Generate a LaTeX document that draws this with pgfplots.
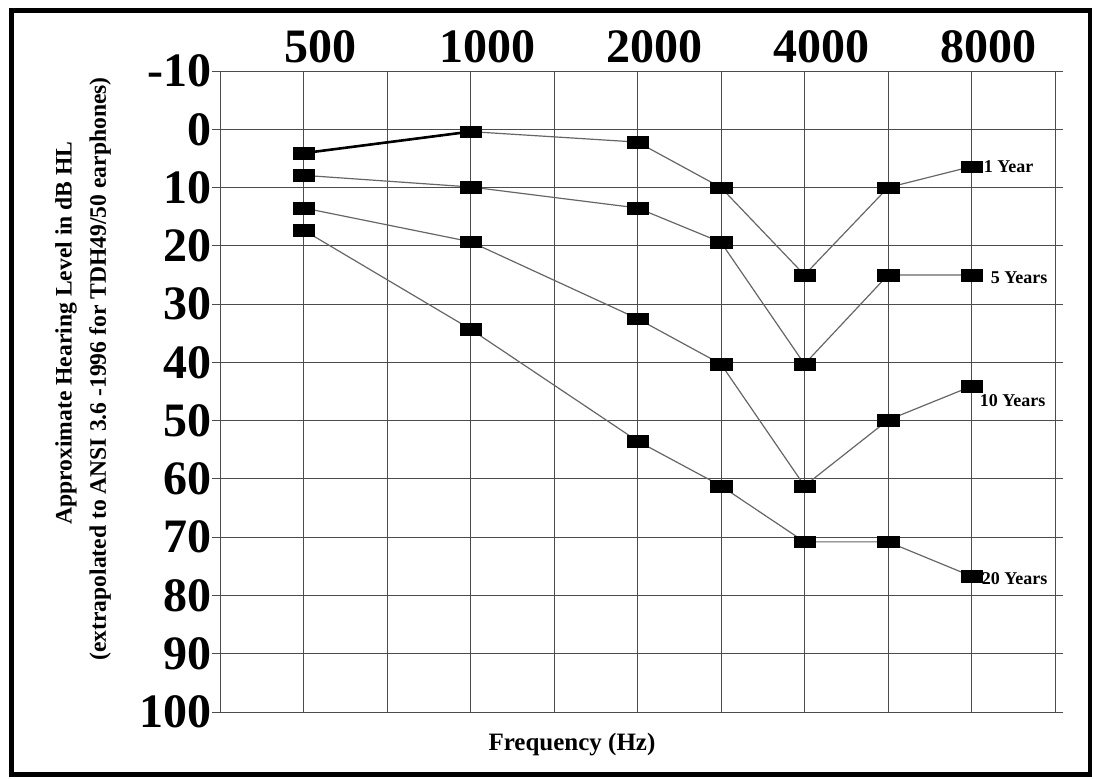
\documentclass[border=0pt]{standalone}
\usepackage{fontspec}
\setmainfont{Liberation Serif}
\usepackage{pgfplots}
\pgfplotsset{compat=1.18}
\usepackage{pgfplotstable}

% x positions: 500=1, 1000=3, 2000=5, 3000=6, 4000=7, 6000=8, 8000=9
\pgfplotstableread{
x y
1 4.1
3 0.4
5 2.2
6 10
7 25
8 10
9 6.4
}\oneyear
\pgfplotstableread{
x y
1 7.9
3 9.9
5 13.5
6 19.4
7 40.3
8 25
9 25
}\fiveyears
\pgfplotstableread{
x y
1 13.5
3 19.3
5 32.5
6 40.3
7 61.2
8 49.9
9 44.1
}\tenyears
\pgfplotstableread{
x y
1 17.3
3 34.3
5 53.5
6 61.2
7 70.8
8 70.8
9 76.7
}\twentyyears

\pgfplotsset{hl/.style={draw=black!60, line width=0.6pt, mark=square*, mark size=2.9pt, mark options={fill=black, draw=black, line width=0.2pt, xscale=1.85, solid}}}

\begin{document}
\begin{tikzpicture}
\useasboundingbox (0,0) rectangle (547pt,389pt);
\draw[line width=2.2pt] (5.75pt,1.75pt) rectangle (545pt,383.75pt);
\begin{axis}[
  at={(110pt,33pt)}, anchor=south west,
  scale only axis, width=417.5pt, height=320.5pt,
  xmin=0, xmax=10, ymin=-10, ymax=100, y dir=reverse,
  xtick={1,3,5,7,9}, xticklabels={500,1000,2000,4000,8000},
  minor xtick={0,2,4,6,8,10},
  xticklabel pos=upper,
  ytick={-10,0,10,20,30,40,50,60,70,80,90,100},
  yticklabels={-10,0,10,20,30,40,50,60,70,80,90,100},
  grid=both,
  major grid style={black!70, line width=0.5pt},
  minor grid style={black!70, line width=0.5pt},
  axis line style={black!70, line width=0.5pt},
  tick align=outside, major tick length=4pt, minor tick length=0pt,
  xtick style={draw=none},
  ytick style={black!70, line width=0.5pt},
  tick label style={font=\fontsize{24}{24}\selectfont\bfseries, inner sep=0pt},
  xticklabel style={xshift=8.5pt},
  clip=false,
]
\addplot[hl] table {\oneyear};
\addplot[black, line width=1.3pt, mark=none] coordinates {(1,4.1) (3,0.4)};
\addplot[hl] table {\fiveyears};
\addplot[hl] table {\tenyears};
\addplot[hl] table {\twentyyears};
\node[anchor=west, xshift=6pt, inner sep=0pt, font=\fontsize{9}{9}\selectfont\bfseries] at (axis cs:9,6.4) {1 Year};
\node[anchor=west, xshift=9.5pt, inner sep=0pt, font=\fontsize{9}{9}\selectfont\bfseries] at (axis cs:9,25.5) {5 Years};
\node[anchor=west, xshift=4pt, inner sep=0pt, font=\fontsize{9}{9}\selectfont\bfseries] at (axis cs:9,46.6) {10 Years};
\node[anchor=west, xshift=5pt, inner sep=0pt, font=\fontsize{9}{9}\selectfont\bfseries] at (axis cs:9,77.1) {20 Years};
\end{axis}
\node[font=\fontsize{12.5}{12.5}\selectfont\bfseries] at (286pt,16.5pt) {Frequency (Hz)};
\node[rotate=90, font=\fontsize{11.8}{12}\selectfont\bfseries] at (33pt,222.5pt) {Approximate Hearing Level in dB HL};
\node[rotate=90, font=\fontsize{11.8}{12}\selectfont\bfseries] at (50pt,204.5pt) {(extrapolated to ANSI 3.6 -1996 for TDH49/50 earphones)};
\end{tikzpicture}
\end{document}
